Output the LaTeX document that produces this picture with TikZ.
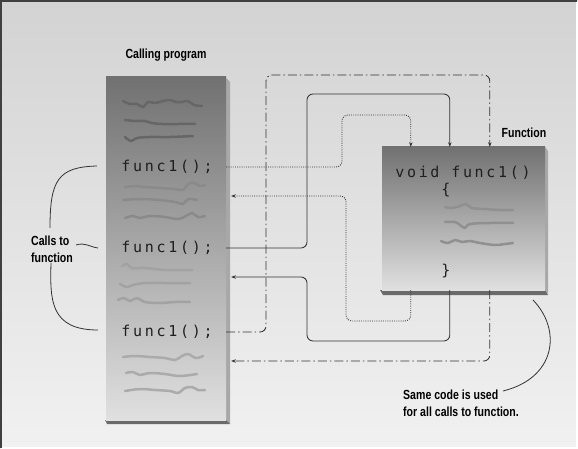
\documentclass[tikz,border=0pt]{standalone}
\usepackage{fontspec}
\usetikzlibrary{arrows.meta,calc}
\newfontfamily\labfont[FakeStretch=0.8]{Liberation Sans}
\newfontfamily\codefont[LetterSpace=18]{DejaVu Sans Mono}
\definecolor{bgtop}{HTML}{D3D3D3}
\definecolor{bgbot}{HTML}{F1F1F1}
\definecolor{boxtop}{HTML}{717171}
\definecolor{boxbot}{HTML}{E0E0E0}
\definecolor{edge}{HTML}{6A6A6A}
\definecolor{edgeb}{HTML}{A8A8A8}
\definecolor{sqa}{HTML}{666666}
\definecolor{sqb}{HTML}{8A8A8A}
\definecolor{sqc}{HTML}{A2A2A2}
\definecolor{sqd}{HTML}{ABABAB}
\definecolor{sqf}{HTML}{909090}
\definecolor{wire}{HTML}{333333}
\tikzset{
  lab/.style={font=\labfont\bfseries\fontsize{13.2}{17}\selectfont, text=black, inner sep=0pt},
  code/.style={font=\codefont\fontsize{15}{17}\selectfont, text=black!88, inner sep=0pt},
  progbox/.style={top color=boxtop, bottom color=boxbot, draw=none, inner sep=0pt},
  sq/.style={line width=2.5pt, line cap=round, line join=round},
  wirebase/.style={draw=wire, line width=0.85pt, rounded corners=6pt, >={Stealth[length=4.5pt,width=3.5pt]}},
  dotline/.style={wirebase, dash pattern=on 0.9pt off 1.3pt},
  solidline/.style={wirebase},
  dashdotline/.style={wirebase, dash pattern=on 9pt off 3pt on 1.5pt off 3pt},
  curve/.style={draw=wire, line width=0.8pt},
}
\begin{document}
\begin{tikzpicture}[x=1pt,y=-1pt]
\useasboundingbox (0,0) rectangle (578,449);
% background
\shade[top color=bgtop, bottom color=bgbot] (0,0) rectangle (578,449);
\draw[white, line width=1.5pt] (577,1) -- (577,448) -- (1,448);
\draw[black!75, line width=1.5pt] (1,448) -- (1,1) -- (577,1);

% calling program box
\fill[edgeb] (226,78) -- (230,82) -- (230,424) -- (226,420) -- cycle;
\fill[edge] (105,420) -- (226,420) -- (230,424) -- (107,424) -- cycle;
\node[progbox, minimum width=120pt, minimum height=343pt] (cp) at (166,248.5) {};
\node[lab] (cptitle) at (166,55) {Calling program};

% function box
\fill[edgeb] (545,147) -- (548,151) -- (548,294) -- (545,290) -- cycle;
\fill[edge] (380,290) -- (545,290) -- (548,295) -- (383,295) -- cycle;
\node[progbox, minimum width=163pt, minimum height=143pt] (fn) at (463.5,218.5) {};
\node[lab] (fntitle) at (524,133) {Function};

% calling program code
\node[code] (c1) at (167,167) {func1();};
\node[code] (c2) at (167,248) {func1();};
\node[code] (c3) at (167,332) {func1();};

% squiggles in calling program
\draw[sq, sqa] plot[smooth, tension=0.6] coordinates {(123,101) (130,104) (137,104) (143,107) (148,102) (155,103) (163,101) (170,100) (176,102) (182,102) (188,101) (194,105) (202,106)};
\draw[sq, sqa] plot[smooth, tension=0.6] coordinates {(125,120) (135,121) (145,121) (152,123) (162,124) (178,124) (195,124)};
\draw[sq, sqa] plot[smooth, tension=0.6] coordinates {(125,137) (131,141) (137,138) (150,137) (170,137) (193,136)};

\draw[sq, sqb] plot[smooth, tension=0.6] coordinates {(125,187) (135,186) (145,187) (160,188) (175,189) (183,190) (188,184) (194,183) (200,186) (205,185)};
\draw[sq, sqb] plot[smooth, tension=0.6] coordinates {(123,200) (140,199) (160,200) (175,202) (183,204) (188,199) (197,200)};
\draw[sq, sqb] plot[smooth, tension=0.6] coordinates {(125,218) (133,216) (140,218) (150,216) (165,217) (178,219) (186,216) (192,213) (198,217) (205,216)};

\draw[sq, sqc] plot[smooth, tension=0.6] coordinates {(122,266) (127,264) (132,268) (145,268) (165,270) (180,270) (192,270)};
\draw[sq, sqc] plot[smooth, tension=0.6] coordinates {(120,284) (127,287) (133,285) (145,283) (165,283) (190,283)};
\draw[sq, sqc] plot[smooth, tension=0.6] coordinates {(118,300) (124,298) (130,301) (137,298) (145,302) (160,303) (175,302) (190,302)};

\draw[sq, sqd] plot[smooth, tension=0.6] coordinates {(123,357) (135,356) (150,357) (165,358) (175,360) (182,356) (188,354) (196,358) (203,356)};
\draw[sq, sqd] plot[smooth, tension=0.6] coordinates {(126,373) (133,372) (140,375) (150,373) (165,374) (180,376) (197,374)};
\draw[sq, sqd] plot[smooth, tension=0.6] coordinates {(125,391) (140,389) (155,390) (170,391) (178,393) (185,388) (192,387) (198,390) (205,390)};

% function code
\node[code] (fhead) at (463,173) {void func1()};
\node[code] (fopen) at (446,190) {\{};
\node[code] (fclose) at (446,271) {\}};
\draw[sq, sqf] plot[smooth, tension=0.6] coordinates {(445,207) (452,208) (460,206) (466,204) (472,208) (485,209) (500,210) (513,210)};
\draw[sq, sqf] plot[smooth, tension=0.6] coordinates {(445,222) (455,222) (460,225) (465,228) (470,224) (490,223) (513,223)};
\draw[sq, sqf] plot[smooth, tension=0.6] coordinates {(441,241) (448,243) (455,240) (462,242) (470,241) (480,243) (495,245) (505,244) (513,243)};

% connectors: call 1 (dotted)
\draw[dotline, ->] (cp.east |- c1) -| (342,115) -| ([xshift=29pt]fn.north west);
\draw[dotline, ->] ([xshift=29pt]fn.south west) |- (346,321) |- ([xshift=5pt]cp.east |- 0,196);
% call 2 (solid)
\draw[solidline, ->] (cp.east |- c2) -| (307,94) -| ([xshift=68pt]fn.north west);
\draw[solidline, ->] ([xshift=68pt]fn.south west) |- (307,341) |- ([xshift=5pt]cp.east |- 0,277);
% call 3 (dash-dot)
\draw[dashdotline, ->] (cp.east |- c3) -| (266,75) -| ([xshift=108pt]fn.north west);
\draw[dashdotline, ->] ([xshift=108pt]fn.south west) |- ([xshift=5pt]cp.east |- 0,361);

% left annotation
\node[lab, align=left, anchor=west] (calls) at (31,249.5) {Calls to\\function};
\draw[curve] (50,228) .. controls (50,180) and (58,167) .. (97,166);
\draw[curve] (76,245) .. controls (85,242) and (90,247) .. (98,248);
\draw[curve] (51,263) .. controls (50,300) and (50,330) .. (98,330);

% right annotation
\node[lab, align=left, anchor=west] (same) at (403,403) {Same code is used\\for all calls to function.};
\draw[curve] (533,300) .. controls (562,330) and (556,378) .. (503,391);
\end{tikzpicture}
\end{document}
